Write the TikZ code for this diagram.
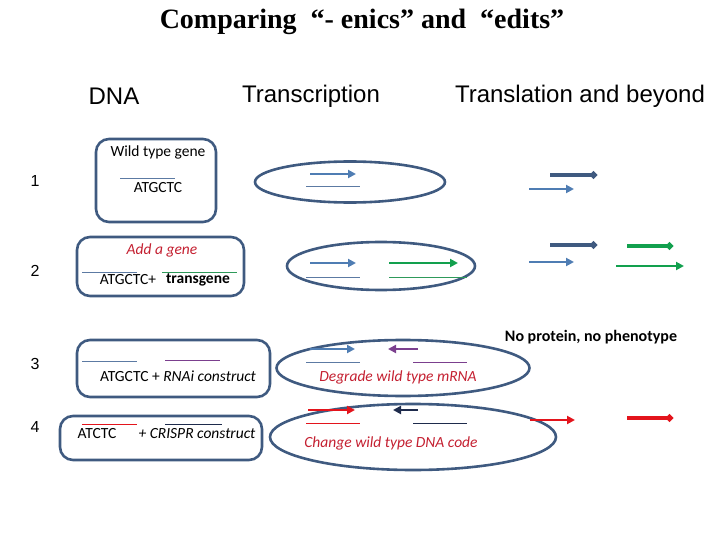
\documentclass[tikz,border=0pt]{standalone}
\usepackage{fontspec}
\setmainfont{Liberation Serif}
\setsansfont{Liberation Sans}
\newfontfamily\calibri{Carlito}
\usepackage{xcolor}
\usetikzlibrary{arrows.meta,positioning,shapes.geometric}
\definecolor{azulCaixa}{HTML}{3F5A80}
\definecolor{azulFita}{HTML}{4F7DB3}
\definecolor{azulLinha}{HTML}{5C7AA3}
\definecolor{verdeGene}{HTML}{12A04E}
\definecolor{verdeLinha}{HTML}{2E9A5A}
\definecolor{vermelho}{HTML}{E3141C}
\definecolor{vermelhoTexto}{HTML}{C42031}
\definecolor{roxo}{HTML}{7B3F8E}
\definecolor{marinho}{HTML}{1E2B4C}
\tikzset{
    caixa/.style={
        rectangle,
        draw=azulCaixa,
        line width=2.6pt,
        rounded corners=13pt
    },
    celula/.style={ellipse, draw=azulCaixa, line width=2.6pt, inner sep=0pt},
    rotulo/.style={font=\calibri\fontsize{15.5}{17}\selectfont, inner sep=0pt},
    nota/.style={rotulo, font=\calibri\itshape\fontsize{15.5}{17}\selectfont, text=vermelhoTexto},
    fita/.style={line width=0.9pt},
    mrna/.style={-{Triangle[length=8pt,width=8pt]}, line width=2.2pt},
    proteina/.style={-{Circle[length=7pt,width=7pt]}, line width=4.8pt},
    cabecalho/.style={font=\sffamily\fontsize{24}{27}\selectfont, inner sep=0pt},
    numero/.style={font=\sffamily\fontsize{16}{18}\selectfont, inner sep=0pt}
}

\begin{document}
\begin{tikzpicture}[x=1pt, y=-1pt]
        \useasboundingbox (0,0) rectangle (720,540);

        % titulo e colunas
        \node[font=\bfseries\fontsize{28}{32}\selectfont, inner sep=0pt] (titulo) at (362,22)
            {Comparing \ “- enics” and \ “edits”};
        \node[cabecalho] (dna) at (114,96) {DNA};
        \node[cabecalho] (transcricao) at (311,96) {Transcription};
        \node[cabecalho] (traducao) at (580,96) {Translation and beyond};

        \node[numero] (n1) at (35,181) {1};
        \node[numero] (n2) at (35,271) {2};
        \node[numero] (n3) at (35,364) {3};
        \node[numero] (n4) at (35,427) {4};

        % DNA
        \node[caixa, minimum width=120pt, minimum height=83pt] (gene1) at (156,180.5) {};
        \node[rotulo] (tipo) at (158,152) {Wild type gene};
        \node[rotulo] (seq1) at (158,188) {ATGCTC};
        \draw[fita, azulLinha] (120,178) -- (175,178);

        \node[caixa, minimum width=167pt, minimum height=59pt] (gene2) at (160.5,266.5) {};
        \node[nota] (adiciona) at (162,250) {Add a gene};
        \node[rotulo] (seq2) at (128,280) {ATGCTC+};
        \node[rotulo, font=\calibri\bfseries\fontsize{15.5}{17}\selectfont] (transgene) at (198,280) {transgene};
        \draw[fita, azulLinha] (82,272) -- (137,272);
        \draw[fita, verdeLinha] (162,272) -- (237,272);

        \node[caixa, minimum width=193pt, minimum height=57pt] (gene3) at (173.5,368.5) {};
        \node[rotulo] (seq3) at (178,376) {ATGCTC + \textit{RNAi construct}};
        \draw[fita, azulLinha] (82,361) -- (137,361);
        \draw[fita, roxo] (165,360) -- (220,360);

        \node[caixa, minimum width=202pt, minimum height=44pt] (gene4) at (161,438) {};
        \node[rotulo] (seq4) at (97,434) {ATCTC};
        \node[rotulo, font=\calibri\itshape\fontsize{15.5}{17}\selectfont] (crispr) at (197,434) {+ CRISPR construct};
        \draw[fita, vermelho] (82,424) -- (137,424);
        \draw[fita, marinho] (165,424) -- (222,424);

        % transcricao
        \node[celula, minimum width=190pt, minimum height=41pt] (cel1) at (350,182) {};
        \draw[mrna, azulFita] (310,174) -- (356,174);
        \draw[fita, azulLinha] (306,186) -- (360,186);

        \node[celula, minimum width=188pt, minimum height=48pt] (cel2) at (381,266) {};
        \draw[mrna, azulFita] (310,263) -- (356,263);
        \draw[fita, azulLinha] (306,277) -- (360,277);
        \draw[mrna, verdeGene] (389,263) -- (458,263);
        \draw[fita, verdeLinha] (389,277) -- (467,277);

        \node[celula, minimum width=253pt, minimum height=56pt] (cel3) at (403,368) {};
        \draw[mrna, azulFita] (310,349) -- (355,349);
        \draw[mrna, roxo] (418,349) -- (388,349);
        \draw[fita, azulLinha] (306,362) -- (360,362);
        \draw[fita, roxo] (413,362) -- (467,362);
        \node[nota] (degrada) at (398,377) {Degrade wild type mRNA};

        \node[celula, minimum width=286pt, minimum height=66pt] (cel4) at (413,437) {};
        \draw[mrna, vermelho] (308,410) -- (355,410);
        \draw[mrna, marinho] (418,410) -- (393,410);
        \draw[fita, vermelho] (306,423) -- (360,423);
        \draw[fita, marinho] (413,423) -- (467,423);
        \node[nota] (muda) at (391,443) {Change wild type DNA code};

        % traducao
        \draw[proteina, azulCaixa] (550,175) -- (597,175);
        \draw[mrna, azulFita] (529,189) -- (574,189);

        \draw[proteina, azulCaixa] (550,245) -- (597,245);
        \draw[proteina, verdeGene] (627,246) -- (673,246);
        \draw[mrna, azulFita] (529,262) -- (574,262);
        \draw[mrna, verdeGene] (616,266) -- (684,266);

        \node[rotulo, font=\calibri\bfseries\fontsize{16}{18}\selectfont] (semproteina) at (591,337)
            {No protein, no phenotype};
        \draw[mrna, vermelho] (530,420) -- (575,420);
        \draw[proteina, vermelho] (627,418) -- (673,418);
    \end{tikzpicture}
\end{document}
